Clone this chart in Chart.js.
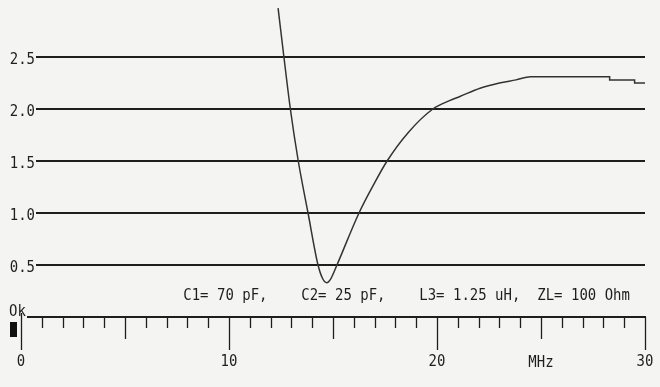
<!DOCTYPE html>
<html>
<head>
<meta charset="utf-8">
<script src="https://cdn.jsdelivr.net/npm/chart.js@4/dist/chart.umd.min.js"></script>
<style>
  html, body { margin: 0; padding: 0; background: #f4f4f2; }
  #wrap { width: 660px; height: 387px; }
</style>
</head>
<body>
<div id="wrap"><canvas id="c" width="660" height="387"></canvas></div>
<script>
// ---- data ----
const freqMHz = [12.36, 12.64, 12.95, 13.33, 13.8, 14.28, 14.5, 14.7, 14.9, 15.19, 16.25, 17.0, 17.6, 18.6, 19.8, 20.6, 21.1, 22.07, 23.0, 23.8, 24.5, 28.3, 28.3, 29.5, 29.5, 30];
const swr     = [2.97, 2.5, 2.0, 1.5, 1.0, 0.5, 0.37, 0.33, 0.37, 0.5, 1.0, 1.29, 1.5, 1.77, 2.0, 2.08, 2.12, 2.2, 2.25, 2.28, 2.31, 2.31, 2.28, 2.28, 2.25, 2.25];
const yGridValues = [0.5, 1.0, 1.5, 2.0, 2.5];
const yTickLabels = ['0.5', '1.0', '1.5', '2.0', '2.5'];
const xLabelValues = [0, 10, 20, 30];
const xLabelTexts = ['0', '10', '20', '30'];
const unitLabel = 'MHz';
const unitLabelAt = 25;
const zeroLabel = 'Ok';
const paramText = 'C1= 70 pF,    C2= 25 pF,    L3= 1.25 uH,  ZL= 100 Ohm';

const points = freqMHz.map((f, i) => ({ x: f, y: swr[i] }));
const INK = '#1e1e1e';
const FONT = '14px "DejaVu Sans Mono", "Liberation Mono", monospace';

function txt(ctx, s, x, y, align) {
  ctx.save();
  ctx.translate(x, y);
  ctx.scale(1, 1.15);
  ctx.textAlign = align;
  ctx.textBaseline = 'middle';
  ctx.fillText(s, 0, 0);
  ctx.restore();
}

const axesPlugin = {
  id: 'retroAxes',
  beforeDatasetsDraw(chart) {
    const { ctx } = chart;
    const xs = chart.scales.x, ys = chart.scales.y;
    const x0 = xs.getPixelForValue(0);
    const x30 = xs.getPixelForValue(30);
    const y0 = ys.getPixelForValue(0);
    ctx.save();
    ctx.strokeStyle = INK;
    ctx.fillStyle = INK;
    ctx.font = FONT;
    // horizontal grid lines
    ctx.lineWidth = 2;
    yGridValues.forEach((v, i) => {
      const y = Math.round(ys.getPixelForValue(v));
      ctx.beginPath();
      ctx.moveTo(x0 + 15, y);
      ctx.lineTo(x30, y);
      ctx.stroke();
      txt(ctx, yTickLabels[i], x0 + 14, y + 3, 'right');
    });
    // x axis line
    ctx.beginPath();
    ctx.moveTo(x0 + 6, y0);
    ctx.lineTo(x30 + 1, y0);
    ctx.stroke();
    // ticks
    ctx.lineWidth = 1.3;
    for (let i = 0; i <= 30; i++) {
      const x = Math.round(xs.getPixelForValue(i)) + 0.5;
      const len = (i % 10 === 0) ? 33 : (i % 5 === 0 ? 22 : 11);
      ctx.beginPath();
      ctx.moveTo(x, i === 0 ? y0 - 4 : y0);
      ctx.lineTo(x, y0 + len);
      ctx.stroke();
    }
    // x labels
    xLabelValues.forEach((v, i) => {
      txt(ctx, xLabelTexts[i], xs.getPixelForValue(v), y0 + 45, 'center');
    });
    txt(ctx, unitLabel, xs.getPixelForValue(unitLabelAt), y0 + 46, 'center');
    // zero marker
    txt(ctx, zeroLabel, x0 - 12, y0 - 5, 'left');
    ctx.fillStyle = '#111';
    ctx.fillRect(x0 - 11, y0 + 5, 7, 15);
    // parameter text
    ctx.fillStyle = INK;
    txt(ctx, paramText, xs.getPixelForValue(7.8), y0 - 21, 'left');
    ctx.restore();
  }
};

new Chart(document.getElementById('c'), {
  type: 'scatter',
  data: {
    datasets: [{
      data: points,
      showLine: true,
      borderColor: '#333333',
      borderWidth: 1.5,
      pointRadius: 0,
      cubicInterpolationMode: 'monotone',
      fill: false
    }]
  },
  options: {
    responsive: false,
    devicePixelRatio: 1,
    animation: false,
    layout: { padding: { left: 21, right: 15, top: 5, bottom: 70 } },
    plugins: { legend: { display: false }, tooltip: { enabled: false } },
    scales: {
      x: { type: 'linear', min: 0, max: 30, display: false },
      y: { type: 'linear', min: 0, max: 3, display: false }
    }
  },
  plugins: [axesPlugin]
});
</script>
</body>
</html>
